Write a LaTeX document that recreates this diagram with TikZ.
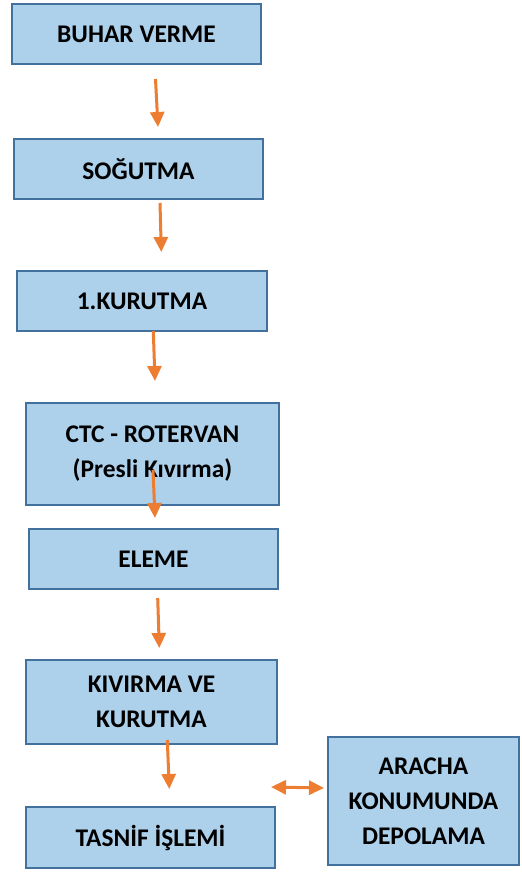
\documentclass[tikz,border=0pt]{standalone}
\usepackage{fontspec}
\setmainfont{Carlito}
\usepackage{xcolor}
\usetikzlibrary{arrows.meta, positioning, calc}
\definecolor{boxfill}{HTML}{ADD0EB}
\definecolor{boxline}{HTML}{41719C}
\definecolor{flowcol}{HTML}{ED7D31}
\tikzset{
    stepbox/.style={draw=boxline, fill=boxfill, line width=1pt, inner sep=0pt,
        align=center, font=\fontsize{12.7}{17.5}\selectfont\bfseries},
    flow/.style={-{Triangle[width=7pt,length=7.5pt]}, line width=1.5pt, flowcol},
    bothflow/.style={{Triangle[width=7pt,length=7.5pt]}-{Triangle[width=7pt,length=7.5pt]}, line width=1.5pt, flowcol}
}
\begin{document}
\begin{tikzpicture}[x=0.5pt, y=-0.5pt]
    \useasboundingbox (0,0) rectangle (521,872);
    % Process steps
    \node[stepbox, minimum width=124.5pt, minimum height=30pt] (buhar) at (136.5,34) {BUHAR VERME};
    \node[stepbox, minimum width=124.5pt, minimum height=30pt] (sogutma) at (138.5,169) {SOĞUTMA};
    \node[stepbox, minimum width=125pt, minimum height=30pt] (kurutma) at (142,301) {1.KURUTMA};
    \node[stepbox, minimum width=126.5pt, minimum height=51pt] (ctc) at (152.5,454) {CTC - ROTERVAN\\(Presli Kıvırma)};
    \node[stepbox, minimum width=124.5pt, minimum height=30pt] (eleme) at (153.5,559) {ELEME};
    \node[stepbox, minimum width=125.5pt, minimum height=42pt] (kivirma) at (151.5,702) {KIVIRMA VE\\KURUTMA};
    \node[stepbox, minimum width=124.5pt, minimum height=30.5pt] (tasnif) at (150.5,837.5) {TASNİF İŞLEMİ};
    % Storage
    \node[stepbox, minimum width=95.5pt, minimum height=64pt] (aracha) at (423.5,801) {ARACHA\\KONUMUNDA\\DEPOLAMA};
    % Flow arrows
    \draw[flow] ([shift={(19,14)}]buhar.south) -- ([shift={(19.5,-11)}]sogutma.north);
    \draw[flow] ([shift={(21.5,3)}]sogutma.south) -- ([shift={(19.3,-18)}]kurutma.north);
    \draw[flow] ([shift={(11.3,-1)}]kurutma.south) -- ([shift={(2.5,-21)}]ctc.north);
    \draw[flow] ([shift={(0.5,-36)}]ctc.south) -- ([shift={(1.5,-10)}]eleme.north);
    \draw[flow] ([shift={(4.2,8)}]eleme.south) -- ([shift={(7.8,-11)}]kivirma.north);
    \draw[flow] ([shift={(15.8,-5)}]kivirma.south) -- ([shift={(18.8,-17)}]tasnif.north);
    % Link to storage
    \draw[bothflow] ([shift={(-5,-19)}]tasnif.north east) -- ([shift={(-3,-13)}]aracha.west);
\end{tikzpicture}
\end{document}
